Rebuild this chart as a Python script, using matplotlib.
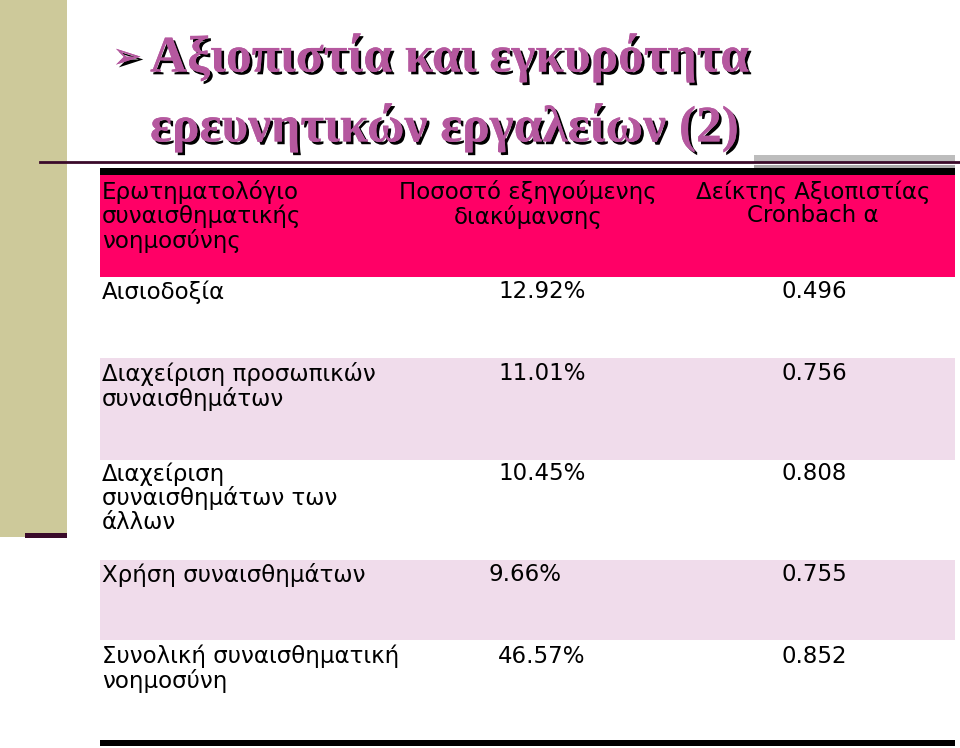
import matplotlib
matplotlib.use("Agg")
import matplotlib.pyplot as plt
from matplotlib.patches import Rectangle
import matplotlib.patheffects as pe

headers = ["Ερωτηματολόγιο\nσυναισθηματικής\nνοημοσύνης", "Ποσοστό εξηγούμενης\nδιακύμανσης", "Δείκτης Αξιοπιστίας\nCronbach α"]
factors = ["Αισιοδοξία", "Διαχείριση προσωπικών\nσυναισθημάτων", "Διαχείριση\nσυναισθημάτων των\nάλλων", "Χρήση συναισθημάτων", "Συνολική συναισθηματική\nνοημοσύνη"]
variance = ["12.92%", "11.01%", "10.45%", "9.66%", "46.57%"]
alpha = ["0.496", "0.756", "0.808", "0.755", "0.852"]
title = "Αξιοπιστία και εγκυρότητα\nερευνητικών εργαλείων (2)"

W, H = 960, 748
fig = plt.figure(figsize=(W/100, H/100), dpi=100)
ax = fig.add_axes([0, 0, 1, 1])
ax.set_xlim(0, W); ax.set_ylim(H, 0); ax.axis("off")

# left band
ax.add_patch(Rectangle((0, 0), 67, 537, color="#CDC99A", lw=0))
ax.add_patch(Rectangle((25, 533), 42, 5, color="#3A0A2A", lw=0))
# title line and grey blocks
ax.add_patch(Rectangle((754, 155), 201, 7, color="#BDBDBD", lw=0))
ax.add_patch(Rectangle((754, 165), 201, 10, color="#A9A9A9", lw=0))
ax.plot([40, 960], [162, 162], color="#3A0A2A", lw=2)

# title
ax.text(112, 58, "\u27A2", fontsize=26, color="#B5589F", va="center", ha="left",
        fontfamily="DejaVu Sans",
        path_effects=[pe.withSimplePatchShadow(offset=(2, -2), shadow_rgbFace="k", alpha=1), pe.Normal()])
ax.text(150, 93, title, fontsize=37, fontweight="bold", fontfamily="Liberation Serif",
        color="#B5589F", va="center", ha="left", linespacing=1.55,
        path_effects=[pe.withSimplePatchShadow(offset=(2, -2), shadow_rgbFace="k", alpha=1), pe.Normal()])

# table
ax.add_patch(Rectangle((100, 168), 855, 7, color="black", lw=0))
ax.add_patch(Rectangle((100, 175), 855, 102, color="#FF0066", lw=0))
row_bounds = [(277, 358), (358, 460), (460, 560), (560, 640), (640, 740)]
row_colors = ["white", "#F0DCEB", "white", "#F0DCEB", "white"]
for (y0, y1), c in zip(row_bounds, row_colors):
    ax.add_patch(Rectangle((100, y0), 855, y1 - y0, color=c, lw=0))
ax.add_patch(Rectangle((100, 740), 855, 6, color="black", lw=0))

fs = 16.5
ax.text(102, 180, headers[0], fontsize=fs, va="top", ha="left", linespacing=1.05, color="black")
ax.text(528, 180, headers[1], fontsize=fs, va="top", ha="center", linespacing=1.05, color="black")
ax.text(813, 180, headers[2], fontsize=fs, va="top", ha="center", linespacing=1.05, color="black")

xs_var = [542, 542, 542, 525, 542]
xs_alpha = [814, 814, 814, 814, 814]
ys = [280, 362, 462, 563, 645]
for f, v, a, y, xv, xa in zip(factors, variance, alpha, ys, xs_var, xs_alpha):
    ax.text(102, y, f, fontsize=fs, va="top", ha="left", linespacing=1.05)
    ax.text(xv, y, v, fontsize=fs, va="top", ha="center")
    ax.text(xa, y, a, fontsize=fs, va="top", ha="center")

fig.savefig("out.png", dpi=100)
